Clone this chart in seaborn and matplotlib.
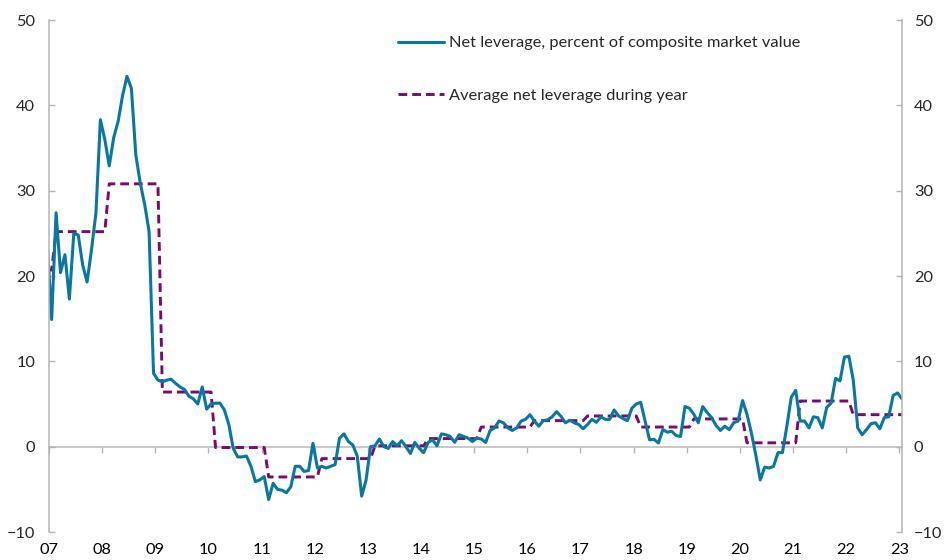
import numpy as np
import pandas as pd
import matplotlib
matplotlib.use("Agg")
import matplotlib.pyplot as plt
import seaborn as sns

# ======================================
# DATA (monthly, Nov 2006 - Dec 2022)
# ======================================
net_leverage = [
    23.8, 14.9,
    27.4, 20.4, 22.5, 17.3, 25.0, 24.8, 21.3, 19.3, 23.1, 27.4, 38.3, 36.0,   # 2007
    32.9, 36.2, 38.1, 41.1, 43.4, 42.0, 34.2, 30.9, 28.4, 25.2, 8.6, 7.8,     # 2008
    7.6, 7.8, 7.9, 7.4, 7.0, 6.7, 5.9, 5.6, 5.0, 7.0, 4.4, 5.0,               # 2009
    5.1, 5.1, 4.3, 2.6, -0.2, -1.2, -1.2, -1.1, -2.3, -4.1, -3.9, -3.5,       # 2010
    -6.2, -4.3, -5.0, -5.1, -5.4, -4.7, -2.3, -2.3, -2.9, -2.8, 0.4, -2.5,    # 2011
    -2.3, -2.5, -2.3, -2.1, 1.0, 1.5, 0.6, 0.2, -1.1, -5.8, -3.9, 0.0,        # 2012
    0.1, 0.9, 0.0, -0.2, 0.6, 0.1, 0.7, 0.0, -0.8, 0.5, -0.2, -0.7,           # 2013
    0.5, 0.8, 0.1, 1.5, 1.4, 1.2, 0.5, 1.4, 1.2, 1.0, 0.6, 1.0,               # 2014
    0.9, 0.5, 1.9, 2.2, 3.0, 2.8, 2.2, 1.9, 2.2, 3.0, 3.2, 3.75,              # 2015
    3.0, 2.4, 3.05, 3.15, 3.5, 4.1, 3.56, 2.8, 3.1, 2.8, 2.6, 2.1,            # 2016
    2.6, 3.2, 2.85, 3.5, 3.2, 3.2, 4.3, 3.6, 3.3, 3.05, 4.5, 5.0,             # 2017
    5.2, 3.0, 0.8, 0.86, 0.43, 2.0, 1.7, 1.8, 1.3, 1.2, 4.7, 4.5,             # 2018
    3.8, 2.8, 4.7, 4.0, 3.4, 2.5, 1.9, 2.4, 2.0, 2.8, 3.0, 5.4,               # 2019
    3.8, 1.6, -1.0, -3.9, -2.4, -2.5, -2.3, -0.7, -0.7, 2.4, 5.8, 6.6,        # 2020
    3.0, 3.0, 2.2, 3.5, 3.4, 2.2, 4.6, 5.1, 8.0, 7.7, 10.5, 10.6,             # 2021
    7.8, 2.2, 1.4, 2.0, 2.7, 2.8, 2.1, 3.4, 3.5, 6.0, 6.3, 5.6,               # 2022
]

avg_years = list(range(2006, 2023))
avg_by_year = [20.7, 25.2, 30.8, 6.4, -0.1, -3.55, -1.4, 0.1, 0.95,
               2.3, 3.05, 3.6, 2.3, 3.25, 0.45, 5.35, 3.75]
months_per_year = [2] + [12] * 16   # 2006 only Nov-Dec in the sample

tick_years = list(range(2007, 2024))
tick_labels = [f"{y % 100:02d}" for y in tick_years]
y_ticks = [-10, 0, 10, 20, 30, 40, 50]

label_net = "Net leverage, percent of composite market value"
label_avg = "Average net leverage during year"

# ======================================
# TABLE
# ======================================
start = 2006 + 11.6 / 12
df = pd.DataFrame({
    "x": start + np.arange(len(net_leverage)) / 12,
    "net": net_leverage,
    "avg": np.repeat(avg_by_year, months_per_year),
})

# ======================================
# PLOT
# ======================================
sns.set_theme(style="white")
plt.rcParams["font.family"] = ["Lato", "DejaVu Sans"]

blue = "#0878a2"
purple = "#7a0a70"
grey = "#b4b4b4"
fs = 11.8

fig = plt.figure(figsize=(9.44, 5.6), dpi=100)
ax = fig.add_axes([49 / 944, 1 - 532 / 560, 853 / 944, 512 / 560])

sns.lineplot(data=df, x="x", y="avg", ax=ax, color=purple, lw=2.1,
             label=label_avg, estimator=None, sort=False)
avg_line = ax.lines[-1]
avg_line.set_dashes((3.0, 1.7))
sns.lineplot(data=df, x="x", y="net", ax=ax, color=blue, lw=2.2,
             label=label_net, estimator=None, sort=False)

ax.set_xlim(2007, 2023.05)
ax.set_ylim(-10, 50)
ax.set_xlabel("")
ax.set_ylabel("")

ax.set_xticks(tick_years)
ax.set_xticklabels(tick_labels)
ax.tick_params(axis="x", length=0, pad=8, labelsize=fs, colors="black")
ax.set_yticks(y_ticks)
ax.tick_params(axis="y", direction="in", length=4, width=1, color=grey,
               pad=10, labelsize=fs)

for side in ["top", "right", "bottom"]:
    ax.spines[side].set_visible(False)
ax.spines["left"].set_color(grey)
ax.spines["left"].set_linewidth(1.1)

# zero line with year ticks
zero = ax.secondary_xaxis(location=(0 - (-10)) / 60)
zero.set_xticks(tick_years)
zero.set_xticklabels([])
zero.tick_params(axis="x", direction="out", length=4, width=1, color=grey)
zero.spines["bottom"].set_color("#c8c8c8")
zero.spines["bottom"].set_linewidth(1.4)

# right axis
ax2 = ax.twinx()
ax2.set_ylim(-10, 50)
ax2.set_yticks(y_ticks)
ax2.tick_params(axis="y", direction="in", length=4, width=1, color=grey,
                pad=8.5, labelsize=fs)
for side in ["top", "left", "bottom"]:
    ax2.spines[side].set_visible(False)
ax2.spines["right"].set_color(grey)
ax2.spines["right"].set_linewidth(1.1)
ax2.grid(False)
ax.grid(False)

handles, labels = ax.get_legend_handles_labels()
order = [labels.index(label_net), labels.index(label_avg)]
ax.legend([handles[i] for i in order], [labels[i] for i in order],
          loc="upper left", bbox_to_anchor=(398 / 944, 1 - 36 / 560),
          bbox_transform=fig.transFigure, frameon=False, fontsize=fs,
          handlelength=2.8, handletextpad=0.3, labelspacing=2.3,
          borderpad=0, borderaxespad=0)

fig.savefig("out.png", dpi=100)
